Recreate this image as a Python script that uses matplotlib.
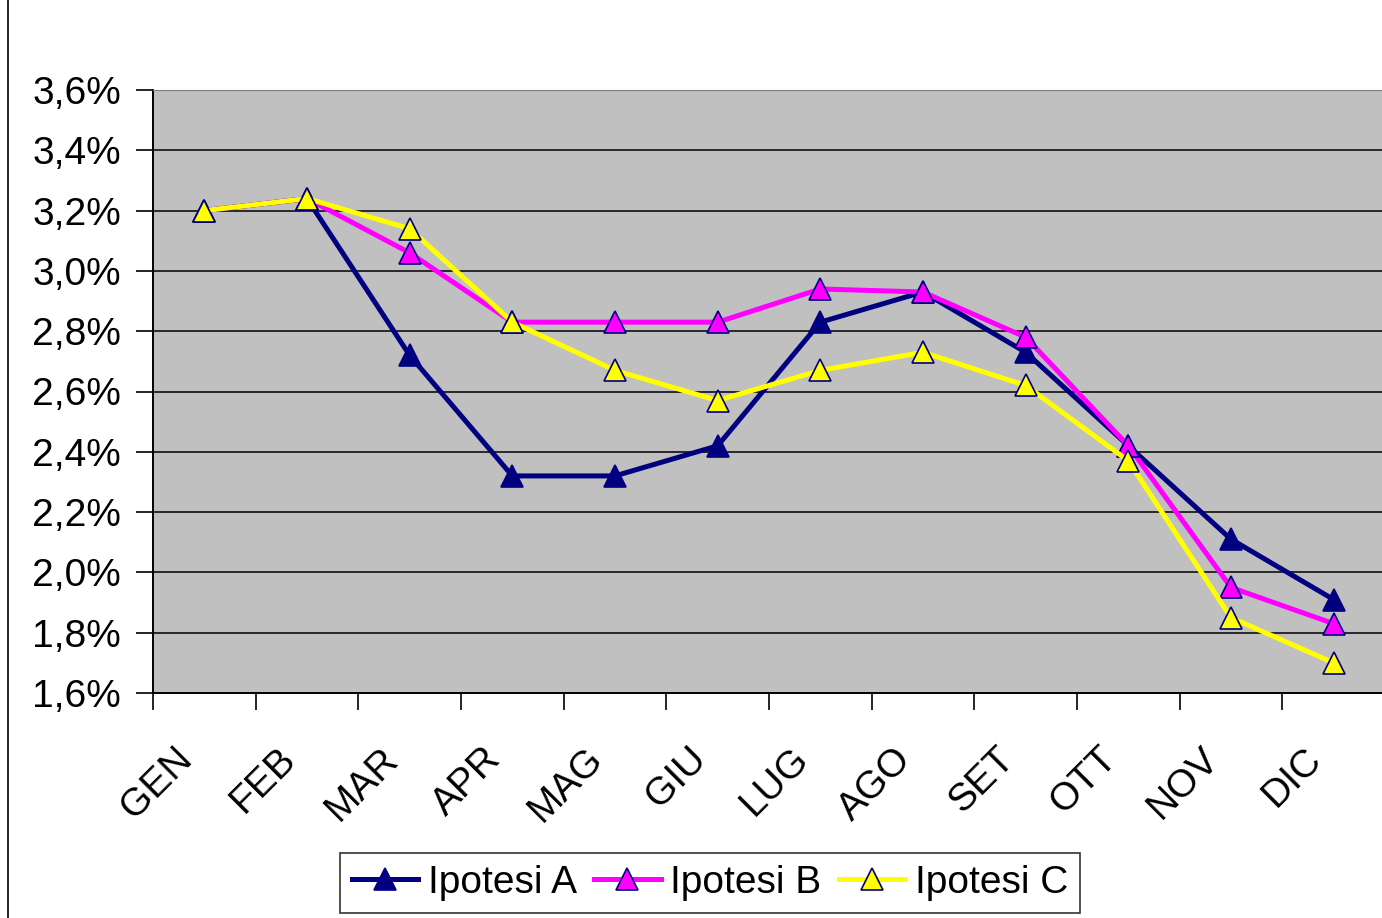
import numpy as np
import matplotlib.pyplot as plt
from matplotlib.lines import Line2D
from matplotlib.transforms import ScaledTranslation

plt.rcParams['font.family'] = ['Liberation Sans', 'DejaVu Sans']

mesi = ["GEN", "FEB", "MAR", "APR", "MAG", "GIU", "LUG", "AGO", "SET", "OTT", "NOV", "DIC"]
ipotesi_a = [3.20, 3.24, 2.72, 2.32, 2.32, 2.42, 2.83, 2.93, 2.73, 2.42, 2.11, 1.91]
ipotesi_b = [3.20, 3.24, 3.06, 2.83, 2.83, 2.83, 2.94, 2.93, 2.78, 2.42, 1.95, 1.83]
ipotesi_c = [3.20, 3.24, 3.14, 2.83, 2.67, 2.57, 2.67, 2.73, 2.62, 2.37, 1.85, 1.70]
yticks = [1.6, 1.8, 2.0, 2.2, 2.4, 2.6, 2.8, 3.0, 3.2, 3.4, 3.6]

W, H = 1382, 918
fig = plt.figure(figsize=(W / 100, H / 100), dpi=100)
ax = fig.add_axes([153 / W, 1 - 693 / H, 1232 / W, 603 / H])
ax.set_facecolor("#C0C0C0")

x = np.arange(len(mesi))
navy = "#000080"
ax.plot(x, ipotesi_a, color=navy, lw=3.6, marker="^", ms=16,
        mfc=navy, mec=navy, mew=1.2, label="Ipotesi A", zorder=3)
ax.plot(x, ipotesi_b, color="#FF00FF", lw=3.6, marker="^", ms=16,
        mfc="#FF00FF", mec=navy, mew=1.2, label="Ipotesi B", zorder=4)
ax.plot(x, ipotesi_c, color="#FFFF00", lw=3.6, marker="^", ms=16,
        mfc="#FFFF00", mec=navy, mew=1.2, label="Ipotesi C", zorder=5)

ax.set_xlim(-0.5, len(mesi) - 0.5)
ax.set_ylim(1.6, 3.6)
ax.set_yticks(yticks)
ax.set_yticklabels([("%.1f%%" % v).replace(".", ",") for v in yticks], fontsize=28)
ax.yaxis.grid(True, color="black", lw=1.1)
ax.set_axisbelow(True)

ax.set_xticks(np.arange(len(mesi) + 1) - 0.5)
ax.set_xticklabels([])
ax.set_xticks(x, minor=True)
ax.set_xticklabels(mesi, minor=True, fontsize=28, rotation=45,
                   ha="right", va="top", rotation_mode="anchor")
ax.tick_params(axis="x", which="minor", length=0, pad=30)
ax.tick_params(axis="both", which="major", length=12, width=1.2, direction="out")
ax.tick_params(axis="y", pad=11)
shift = ScaledTranslation(-0.30, -0.06, fig.dpi_scale_trans)
for lab in ax.get_xticklabels(minor=True):
    lab.set_transform(lab.get_transform() + shift)

ax.spines["right"].set_visible(False)
ax.spines["top"].set_color("#808080")
ax.spines["left"].set_linewidth(1.4)
ax.spines["bottom"].set_linewidth(1.4)

leg = ax.legend(loc="center", bbox_to_anchor=(710 / W, 1 - 883 / H),
                bbox_transform=fig.transFigure, ncol=3, fontsize=28,
                frameon=True, fancybox=False, handlelength=1.7,
                handletextpad=0.25, columnspacing=0.45, borderpad=0.3)
leg.get_frame().set_edgecolor("black")
leg.get_frame().set_linewidth(1.2)

fig.add_artist(Line2D([8 / W, 8 / W], [0, 1], color="black", lw=1.2,
                      transform=fig.transFigure))

fig.savefig("out.png", dpi=100)
